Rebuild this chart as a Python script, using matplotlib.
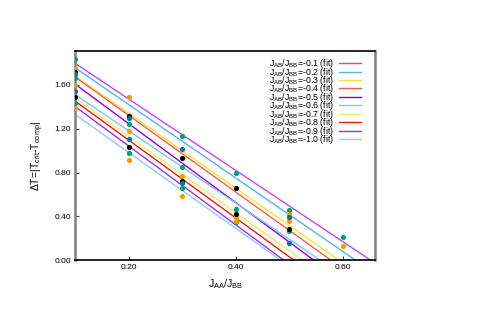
import matplotlib
matplotlib.use('Agg')
import matplotlib.pyplot as plt
import numpy as np

plt.rcParams['font.family'] = ['Liberation Sans', 'DejaVu Sans']
plt.rcParams['mathtext.fontset'] = 'custom'
plt.rcParams['mathtext.rm'] = 'Liberation Sans'
plt.rcParams['mathtext.it'] = 'Liberation Sans'

# J_AB/J_BB values of the fits
ratios = ['-0.1', '-0.2', '-0.3', '-0.4', '-0.5', '-0.6', '-0.7', '-0.8', '-0.9', '-1.0']
# linear fits y = a*x + b
fit_a = [-3.257, -3.354, -3.417, -3.501, -3.606, -3.302, -3.484, -3.555, -3.600, -3.466]
fit_b = [2.124, 2.093, 2.026, 2.024, 1.969, 1.843, 1.829, 1.809, 1.764, 1.678]
line_cols = ['#b050e8', '#56b4e9', '#f0e442', '#f06050',
             '#9400d3', '#80c4ee', '#f4e870', '#e51e10',
             '#a030e0', '#90cbee']

# data points, grouped by colour
teal_x = [0.1, 0.1, 0.1, 0.2, 0.2, 0.3, 0.3, 0.3, 0.4, 0.4, 0.4, 0.5, 0.5, 0.6]
teal_y = [1.838, 1.662, 1.439, 1.240, 0.980, 1.138, 0.849, 0.663, 0.800, 0.466, 0.350, 0.462, 0.270, 0.210]
orange_x = [0.1, 0.1, 0.1, 0.2, 0.2, 0.2, 0.3, 0.3, 0.4, 0.4, 0.5, 0.5, 0.6]
orange_y = [1.753, 1.601, 1.391, 1.489, 1.178, 0.919, 0.770, 0.590, 0.393, 0.359, 0.426, 0.362, 0.131]
black_x = [0.1, 0.1, 0.2, 0.2, 0.3, 0.3, 0.4, 0.4, 0.5]
black_y = [1.717, 1.489, 1.316, 1.034, 0.932, 0.727, 0.663, 0.420, 0.283]
blue_x = [0.1, 0.1, 0.2, 0.2, 0.3, 0.3, 0.5, 0.5]
blue_y = [1.699, 1.549, 1.297, 1.111, 1.019, 0.703, 0.393, 0.161]

fig = plt.figure(figsize=(5, 3.14), dpi=100)
ax = fig.add_axes([0.15, 0.171, 0.60, 0.6665])

xx = np.linspace(0.1, 0.66, 200)
for a, b, r, c in zip(fit_a, fit_b, ratios, line_cols):
    ax.plot(xx, a * xx + b, color=c, lw=1.0,
            label='J$_{AB}$/J$_{BB}$=' + r + ' (fit)')

ax.scatter(teal_x, teal_y, s=14, color='#009e73', zorder=3, linewidths=0)
ax.scatter(orange_x, orange_y, s=14, color='#e69f00', zorder=3, linewidths=0)
ax.scatter(black_x, black_y, s=14, color='black', zorder=3, linewidths=0)
ax.scatter(blue_x, blue_y, s=14, color='#0072b2', zorder=3, linewidths=0)

ax.set_xlim(0.1, 0.66)
ax.set_ylim(0, 1.91)
ax.set_xticks([0.2, 0.4, 0.6])
ax.set_xticklabels(['0.20', '0.40', '0.60'])
ax.set_yticks([0, 0.4, 0.8, 1.2, 1.6])
ax.set_yticklabels(['0.00', '0.40', '0.80', '1.20', '1.60'])
ax.tick_params(direction='in', length=3, width=0.8, labelsize=6, pad=3,
               colors='#444444', labelcolor='black')

for s in ['left', 'right']:
    ax.spines[s].set_color('#808080')
    ax.spines[s].set_linewidth(1.8)
for s in ['top', 'bottom']:
    ax.spines[s].set_color('black')
    ax.spines[s].set_linewidth(1.2)

ax.set_xlabel('J$_{AA}$/J$_{BB}$', fontsize=7.5, labelpad=4)
ax.set_ylabel(r'$\Delta$T=|T$_{crit}$-T$_{comp}$|', fontsize=7.5, labelpad=6)

ax.legend(loc='upper right', bbox_to_anchor=(0.975, 1.0), frameon=False,
          markerfirst=False, fontsize=6.3, labelspacing=-0.52, handlelength=2.6,
          handletextpad=0.5, borderpad=0.2)

fig.savefig('out.png', dpi=100)
